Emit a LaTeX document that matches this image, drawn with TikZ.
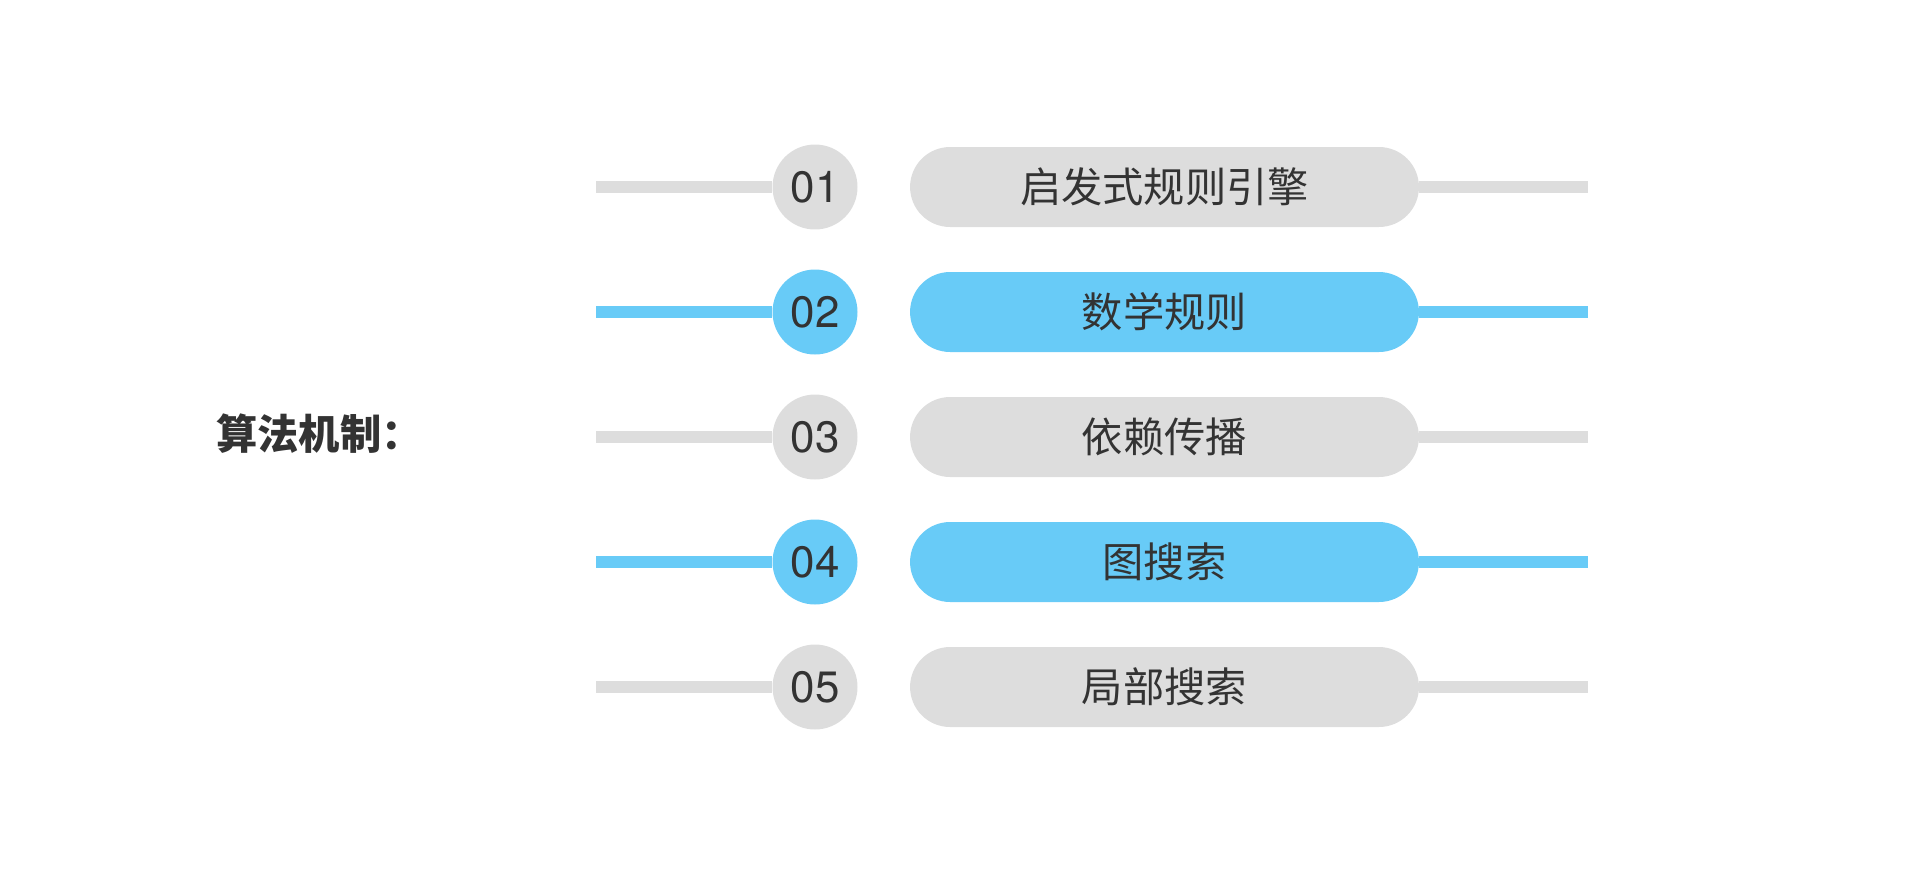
\documentclass[tikz,border=0pt]{standalone}
\usepackage{fontspec}
\usepackage{tikz}
\usetikzlibrary{positioning}
\newfontfamily\cjk{Noto Sans CJK SC}
\newfontfamily\digits{TeX Gyre Heros}
\definecolor{ink}{RGB}{51,51,51}
\definecolor{pale}{RGB}{221,221,221}
\definecolor{sky}{RGB}{104,203,247}
\tikzset{
  numdot/.style={circle, inner sep=0pt, minimum size=1.7cm,
    text=ink, font=\digits\fontsize{25}{28}\selectfont},
  pill/.style={rectangle, rounded corners=0.8cm, inner sep=0pt,
    minimum width=10.18cm, minimum height=1.6cm,
    text=ink, font=\cjk\fontsize{23.5}{27}\selectfont},
  stem/.style={line width=0.24cm},
}
\begin{document}
\begin{tikzpicture}[x=0.02cm, y=-0.02cm]
\useasboundingbox (0,0) rectangle (1920,873);
% one pixel of the reference = 0.02cm; rows sit 125px apart
\def\xl{596}
\def\xr{1588}
\def\xc{815}
\def\xp{1164.5}

\node[anchor=west, text=ink, font=\cjk\bfseries\fontsize{23.5}{27}\selectfont]
  (title) at (210,434) {算法机制：};

% 01: grey
\coordinate (la) at (\xl,187);
\coordinate (ra) at (\xr,187);
\node[numdot, fill=pale] (na) at (\xc,187) {01};
\node[pill, fill=pale] (pa) at (\xp,187) {启发式规则引擎};
\draw[stem, draw=pale] (la) -- (na.west);
\draw[stem, draw=pale] (pa.east) -- (ra);

% 02: blue
\coordinate (lb) at (\xl,312);
\coordinate (rb) at (\xr,312);
\node[numdot, fill=sky] (nb) at (\xc,312) {02};
\node[pill, fill=sky] (pb) at (\xp,312) {数学规则};
\draw[stem, draw=sky] (lb) -- (nb.west);
\draw[stem, draw=sky] (pb.east) -- (rb);

% 03: grey
\coordinate (lc) at (\xl,437);
\coordinate (rc) at (\xr,437);
\node[numdot, fill=pale] (nc) at (\xc,437) {03};
\node[pill, fill=pale] (pc) at (\xp,437) {依赖传播};
\draw[stem, draw=pale] (lc) -- (nc.west);
\draw[stem, draw=pale] (pc.east) -- (rc);

% 04: blue
\coordinate (ld) at (\xl,562);
\coordinate (rd) at (\xr,562);
\node[numdot, fill=sky] (nd) at (\xc,562) {04};
\node[pill, fill=sky] (pd) at (\xp,562) {图搜索};
\draw[stem, draw=sky] (ld) -- (nd.west);
\draw[stem, draw=sky] (pd.east) -- (rd);

% 05: grey
\coordinate (le) at (\xl,687);
\coordinate (re) at (\xr,687);
\node[numdot, fill=pale] (ne) at (\xc,687) {05};
\node[pill, fill=pale] (pe) at (\xp,687) {局部搜索};
\draw[stem, draw=pale] (le) -- (ne.west);
\draw[stem, draw=pale] (pe.east) -- (re);
\end{tikzpicture}
\end{document}
